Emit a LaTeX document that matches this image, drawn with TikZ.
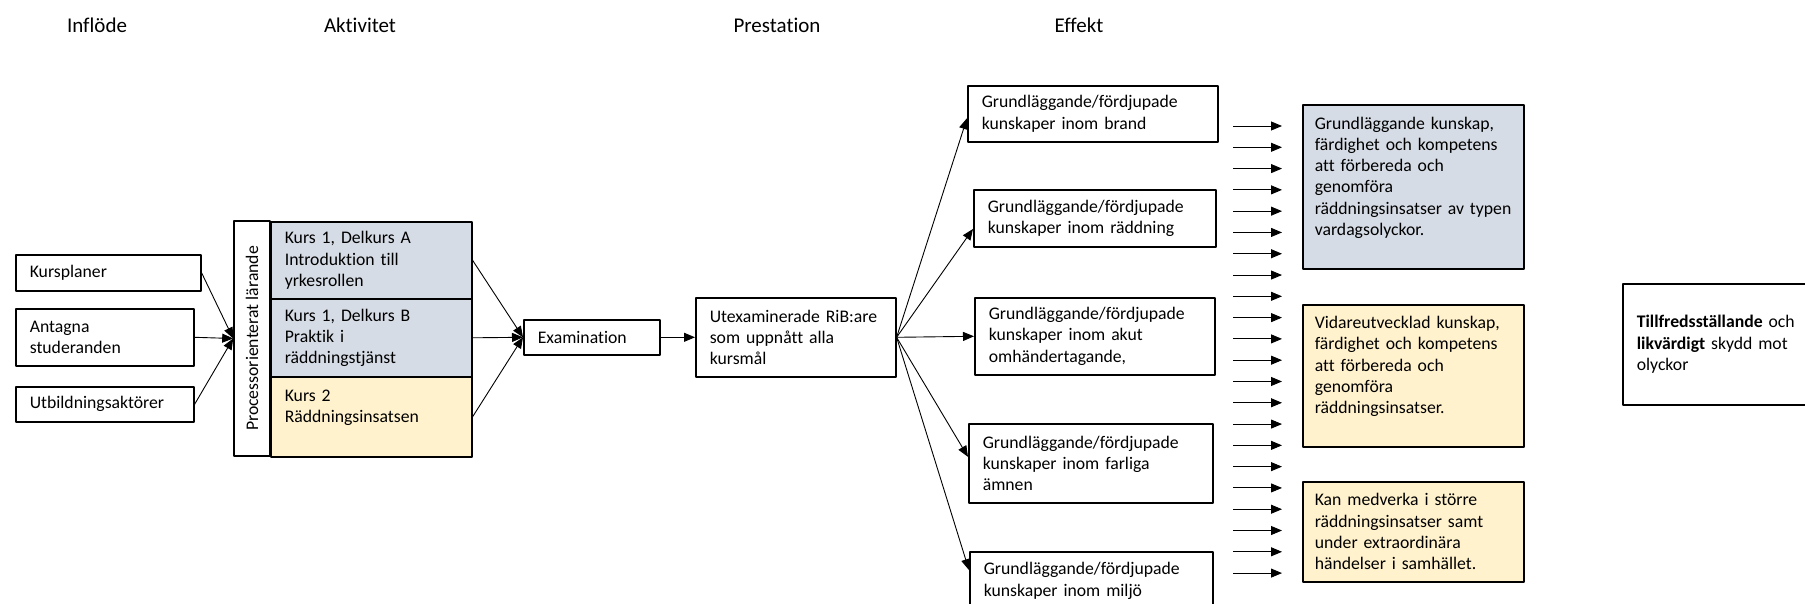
\documentclass[tikz,border=0pt]{standalone}
\usepackage{fontspec}
\usepackage{graphicx}
\setmainfont{Carlito}[Ligatures=NoCommon]
\usetikzlibrary{arrows.meta}
\definecolor{blagra}{HTML}{D6DCE5}
\definecolor{ljusgul}{HTML}{FFF2CC}
\begin{document}
\begin{tikzpicture}[x=1pt,y=-1pt,line join=round,>={Triangle[length=11pt,width=9pt]},
	box/.style={draw,line width=1.6pt,align=left,anchor=north west,inner xsep=14pt,inner ysep=0pt,font=\fontsize{17.7}{21.3}\selectfont},
	head/.style={font=\fontsize{21}{25}\selectfont},
	pil/.style={->,line width=0.9pt}]
	\useasboundingbox (0,0) rectangle (1805,604);
	\node[head] (inflode) at (97,25) {Inflöde};
	\node[head] (aktivitet) at (360,25) {Aktivitet};
	\node[head] (prestation) at (777,25) {Prestation};
	\node[head] (effekt) at (1079,25) {Effekt};
	\node[box,text width=157,minimum height=36] (kursplaner) at (15,254) {Kursplaner};
	\node[box,text width=150,minimum height=57] (antagna) at (15,308) {Antagna\\studeranden};
	\node[box,text width=150,minimum height=35] (aktorer) at (15,386) {Utbildningsaktörer};
	\node[draw,line width=1.6pt,minimum width=36,minimum height=235,inner sep=0pt,font=\fontsize{17.7}{21.3}\selectfont] (proc) at (252,338.5) {\rotatebox{90}{Processorienterat lärande}};
	\node[box,fill=blagra,text width=173,minimum height=77] (kursA) at (270,221) {Kurs 1, Delkurs A\\Introduktion till\\yrkesrollen};
	\node[box,fill=blagra,text width=173,minimum height=78] (kursB) at (270,298) {Kurs 1, Delkurs B\\Praktik i\\räddningstjänst};
	\node[box,fill=ljusgul,text width=173,minimum height=80] (kurs2) at (270,376) {Kurs 2\\Räddningsinsatsen\\~};
	\node[box,text width=108,minimum height=35] (exam) at (523,319) {Examination};
	\node[box,text width=172,minimum height=79] (utex) at (695,297) {Utexaminerade RiB:are\\som uppnått alla\\kursmål};
	\node[box,text width=222,minimum height=56] (brand) at (967,85) {Grundläggande/fördjupade\\kunskaper inom brand};
	\node[box,text width=214,minimum height=57] (raddning) at (973,189) {Grundläggande/fördjupade\\kunskaper inom räddning};
	\node[box,text width=212,minimum height=77] (akut) at (974,297) {Grundläggande/fördjupade\\kunskaper inom akut\\omhändertagande,};
	\node[box,text width=216,minimum height=79] (farliga) at (968,423) {Grundläggande/fördjupade\\kunskaper inom farliga\\ämnen};
	\node[box,text width=215,minimum height=58] (miljo) at (969,551) {Grundläggande/fördjupade\\kunskaper inom miljö};
	\node[box,fill=blagra,inner xsep=12pt,text width=197,minimum height=164] (grund) at (1302,104) {Grundläggande kunskap,\\färdighet och kompetens\\att förbereda och\\genomföra\\räddningsinsatser av typen\\vardagsolyckor.\\~};
	\node[box,fill=ljusgul,inner xsep=12pt,text width=197,minimum height=142] (vidare) at (1302,304) {Vidareutvecklad kunskap,\\färdighet och kompetens\\att förbereda och\\genomföra\\räddningsinsatser.\\~};
	\node[box,fill=ljusgul,inner xsep=12pt,text width=197,minimum height=100] (medverka) at (1302,481) {Kan medverka i större\\räddningsinsatser samt\\under extraordinära\\händelser i samhället.};
	\node[box,text width=190,minimum height=121] (skydd) at (1622,283) {\textbf{Tillfredsställande} och\\\textbf{likvärdigt} skydd mot\\olyckor};
	\draw[pil] (kursplaner.east) -- (proc.west);
	\draw[pil] (antagna.east) -- (proc.west);
	\draw[pil] (aktorer.east) -- (proc.west);
	\draw[pil] (kursA.east) -- (exam.west);
	\draw[pil] (kursB.east) -- (exam.west);
	\draw[pil] (kurs2.east) -- (exam.west);
	\draw[pil] (exam.east) -- (utex.west);
	\draw[pil] (utex.east) -- (brand.182);
	\draw[pil] (utex.east) -- (raddning.185);
	\draw[pil] (utex.east) -- (akut.west);
	\draw[pil] (utex.east) -- (farliga.177);
	\draw[pil] (utex.east) -- (miljo.175);
	\foreach \i in {0,...,21}
		\draw[pil] (1233,{126+21.29*\i}) -- ++(49,0);
\end{tikzpicture}
\end{document}
